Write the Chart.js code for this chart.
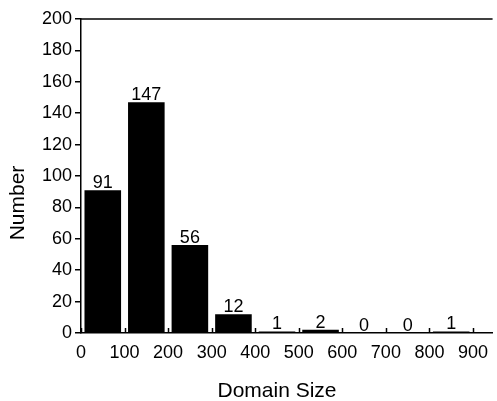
<!DOCTYPE html>
<html><head><meta charset="utf-8">
<script src="https://cdn.jsdelivr.net/npm/chart.js@4"></script>
<style>html,body{margin:0;padding:0;background:#fff}#wrap{width:497px;height:401px}</style>
</head><body><div id="wrap"><canvas id="c" width="497" height="401"></canvas></div>
<script>
const binCenters = [50, 150, 250, 350, 450, 550, 650, 750, 850];
const counts = [91, 147, 56, 12, 1, 2, 0, 0, 1];
const xTicks = [0, 100, 200, 300, 400, 500, 600, 700, 800, 900];
const yTicks = [0, 20, 40, 60, 80, 100, 120, 140, 160, 180, 200];
const xTitle = 'Domain Size';
const yTitle = 'Number';

const FONT = 'Liberation Sans, Arial, sans-serif';

const extras = {
  id: 'extras',
  afterDatasetsDraw(chart) {
    const ctx = chart.ctx, a = chart.chartArea, xs = chart.scales.x;
    ctx.save();
    ctx.strokeStyle = '#000';
    ctx.lineWidth = 1.5;
    ctx.beginPath(); ctx.moveTo(a.left, a.top); ctx.lineTo(a.right, a.top); ctx.stroke();
    xTicks.forEach(v => {
      const px = Math.round(xs.getPixelForValue(v)) + 0.5;
      ctx.beginPath(); ctx.moveTo(px, a.bottom - 5); ctx.lineTo(px, a.bottom); ctx.stroke();
    });
    ctx.fillStyle = '#000';
    ctx.font = '18px ' + FONT;
    ctx.textAlign = 'center';
    ctx.textBaseline = 'alphabetic';
    const meta = chart.getDatasetMeta(0);
    meta.data.forEach((el, i) => {
      ctx.fillText(String(counts[i]), el.x, el.y - 2);
    });
    ctx.font = '21px ' + FONT;
    ctx.fillText(xTitle, 277, 397);
    ctx.translate(24, 203);
    ctx.rotate(-Math.PI / 2);
    ctx.fillText(yTitle, 0, 0);
    ctx.restore();
  }
};

new Chart(document.getElementById('c'), {
  type: 'bar',
  data: {
    datasets: [{
      data: binCenters.map((x, i) => ({ x: x, y: counts[i] })),
      backgroundColor: '#000',
      borderWidth: 0,
      barPercentage: 0.84,
      categoryPercentage: 1
    }]
  },
  options: {
    responsive: false,
    devicePixelRatio: 1,
    animation: false,
    layout: { padding: { top: 19, right: 0, left: 0, bottom: 0 } },
    plugins: { legend: { display: false }, tooltip: { enabled: false } },
    scales: {
      x: {
        type: 'linear',
        offset: false,
        min: 0, max: 945,
        afterBuildTicks(s) { s.ticks = xTicks.map(v => ({ value: v })); },
        afterFit(s) { s.height = 68; },
        grid: { drawOnChartArea: false, drawTicks: false, offset: false },
        border: { color: '#000', width: 1.5 },
        ticks: { color: '#000', font: { family: FONT, size: 18 }, padding: 9, maxRotation: 0, autoSkip: false }
      },
      y: {
        min: 0, max: 200,
        afterBuildTicks(s) { s.ticks = yTicks.map(v => ({ value: v })); },
        afterFit(s) { s.width = 81; },
        grid: { drawOnChartArea: false, drawTicks: true, tickLength: 6, color: '#000', lineWidth: 1.5 },
        border: { color: '#000', width: 1.5 },
        ticks: { color: '#000', font: { family: FONT, size: 18 }, padding: 3 }
      }
    }
  },
  plugins: [extras]
});
</script>
</body></html>
